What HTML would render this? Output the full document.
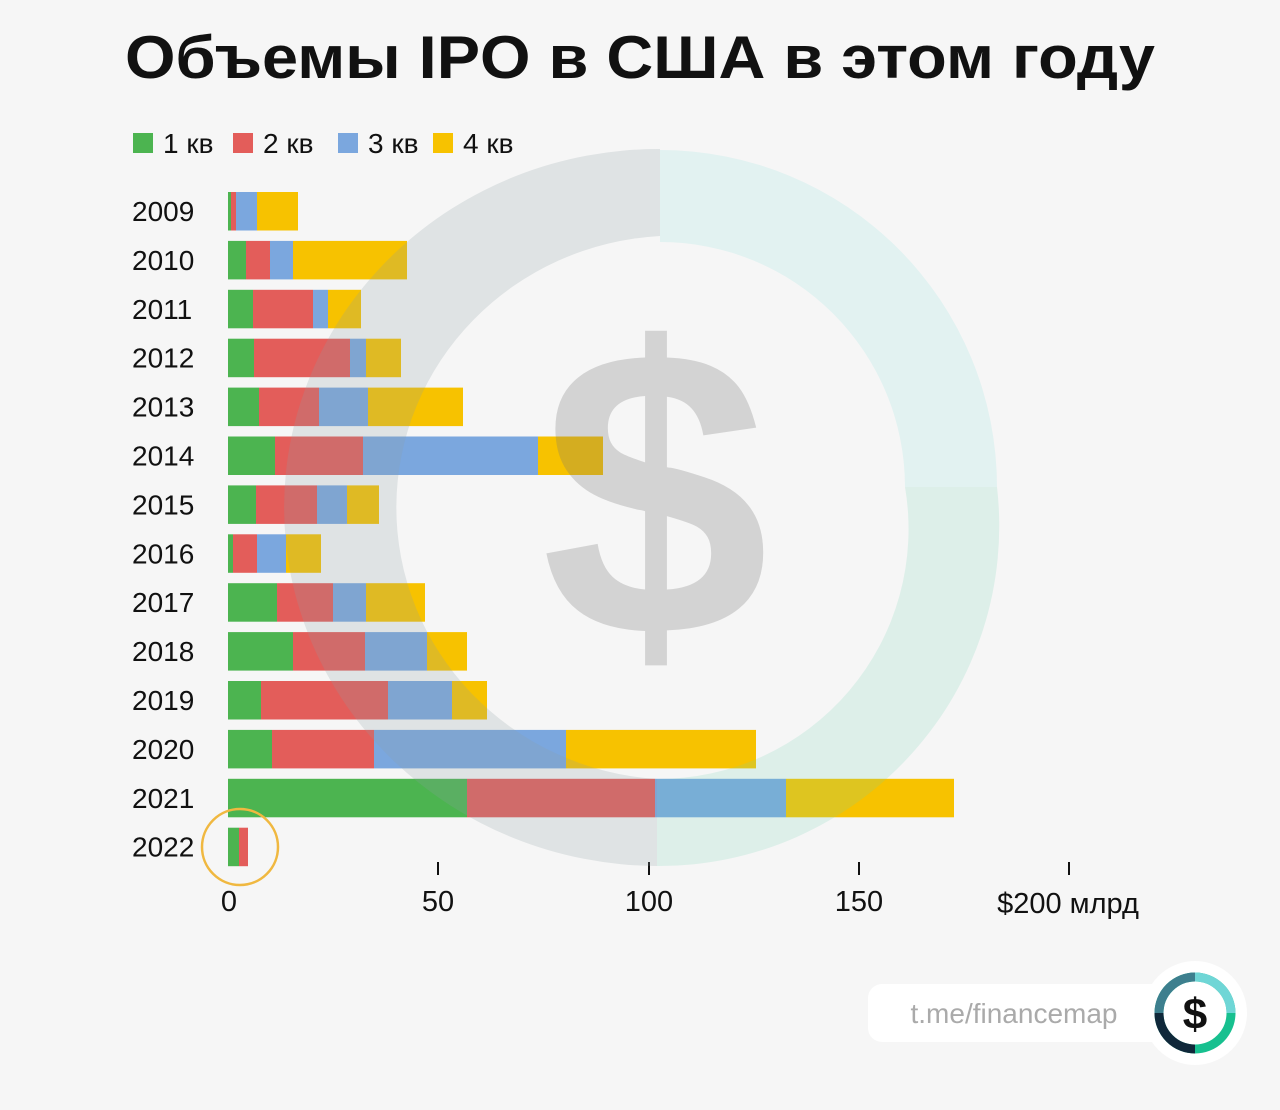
<!DOCTYPE html><html><head><meta charset="utf-8"><style>body{margin:0;background:#f6f6f6;font-family:"Liberation Sans",sans-serif}</style></head><body>
<svg width="1280" height="1105" xmlns="http://www.w3.org/2000/svg" font-family="Liberation Sans, sans-serif">
<rect width="1280" height="1105" fill="#f6f6f6"/>
<text x="125" y="78" textLength="1030" lengthAdjust="spacingAndGlyphs" font-size="60" font-weight="bold" fill="#111">Объемы IPO в США в этом году</text>
<g font-size="28" fill="#111">
<rect x="133" y="133" width="20" height="20" fill="#4cb450"/><text x="163" y="153">1 кв</text>
<rect x="233" y="133" width="20" height="20" fill="#e35d5a"/><text x="263" y="153">2 кв</text>
<rect x="338" y="133" width="20" height="20" fill="#7ba7de"/><text x="368" y="153">3 кв</text>
<rect x="433" y="133" width="20" height="20" fill="#f7c200"/><text x="463" y="153">4 кв</text>
</g>
<g id="bars"></g>
<g font-size="28" fill="#111" id="labels"></g>
<g stroke="#111" stroke-width="2"><line x1="438" y1="862" x2="438" y2="875"/><line x1="649" y1="862" x2="649" y2="875"/><line x1="859" y1="862" x2="859" y2="875"/><line x1="1069" y1="862" x2="1069" y2="875"/></g>
<g font-size="29" fill="#111" text-anchor="middle"><text x="229" y="911">0</text><text x="438" y="911">50</text><text x="649" y="911">100</text><text x="859" y="911">150</text><text x="1068" y="913">$200 млрд</text></g>
<circle cx="240" cy="847" r="38" fill="none" stroke="#f0b840" stroke-width="2.5"/>
<!-- watermark -->
<path d="M660 149 A374 358 0 0 0 657 866 L657 779 A279 272 0 0 1 660 236Z" fill="rgba(140,160,165,0.22)"/>
<path d="M660 150 A337 337 0 0 1 997 487 L905 487 A245 245 0 0 0 660 242Z" fill="rgba(140,225,220,0.18)"/>
<path d="M997 487 A340 340 0 0 1 657 866 L657 779 A250 250 0 0 0 905 487Z" fill="rgba(110,210,175,0.18)"/>
<text x="655" y="635" text-anchor="middle" font-size="410" font-weight="bold" fill="rgba(120,120,120,0.27)">$</text>
<!-- badge -->
<rect x="868" y="984" width="300" height="58" rx="14" fill="#fff"/>
<text x="1014" y="1023" text-anchor="middle" font-size="28" fill="#aaa">t.me/financemap</text>
<circle cx="1195" cy="1013" r="52" fill="#fff"/>
<circle cx="1195" cy="1013" r="36" fill="none" stroke="#17c08f" stroke-width="9"/>
<path d="M1195 977 A36 36 0 0 1 1231 1013" fill="none" stroke="#6fd6d6" stroke-width="9"/>
<path d="M1159 1013 A36 36 0 0 1 1195 977" fill="none" stroke="#3d7f8e" stroke-width="9"/>
<path d="M1195 1049 A36 36 0 0 1 1159 1013" fill="none" stroke="#10283a" stroke-width="9"/>
<text x="1195" y="1029" text-anchor="middle" font-size="44" font-weight="bold" fill="#111">$</text>
</svg>
<script>
var d=[[2009,231,236,257,298],[2010,246,270,293,407],[2011,253,313,328,361],[2012,254,350,366,401],[2013,259,319,368,463],[2014,275,363,538,603],[2015,256,317,347,379],[2016,233,257,286,321],[2017,277,333,366,425],[2018,293,365,427,467],[2019,261,388,452,487],[2020,272,374,566,756],[2021,467,655,786,954],[2022,239,248,248,248]];
var c=["#4cb450","#e35d5a","#7ba7de","#f7c200"],ns="http://www.w3.org/2000/svg",b=document.getElementById("bars"),l=document.getElementById("labels");
d.forEach(function(r,i){var y=192+i*48.9,x=228;for(var k=0;k<4;k++){var e=document.createElementNS(ns,"rect");e.setAttribute("x",x);e.setAttribute("y",y);e.setAttribute("width",r[k+1]-x);e.setAttribute("height",38.5);e.setAttribute("fill",c[k]);b.appendChild(e);x=r[k+1];}
var t=document.createElementNS(ns,"text");t.setAttribute("x",132);t.setAttribute("y",y+29);t.textContent=r[0];l.appendChild(t);});
</script>
</body></html>
